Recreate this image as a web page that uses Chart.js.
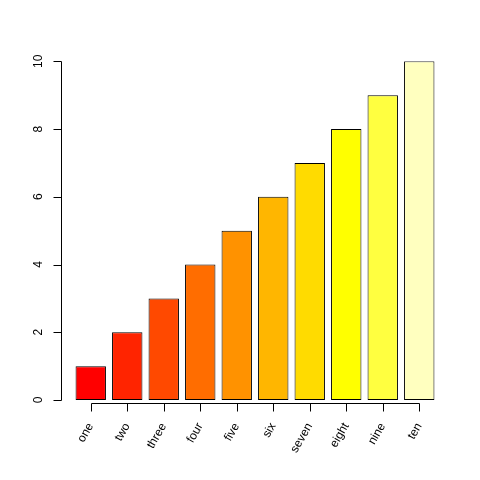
<!DOCTYPE html>
<html>
<head>
<meta charset="utf-8">
<script src="https://cdn.jsdelivr.net/npm/chart.js@4/dist/chart.umd.min.js"></script>
<style>
  body { margin: 0; background: #fff; }
  #chart { display: block; }
</style>
</head>
<body>
<canvas id="chart" width="480" height="480"></canvas>
<script>
// data
const categories = ['one', 'two', 'three', 'four', 'five', 'six', 'seven', 'eight', 'nine', 'ten'];
const values = [1, 2, 3, 4, 5, 6, 7, 8, 9, 10];
const yTicks = [0, 2, 4, 6, 8, 10];

// heat.colors(10)
const palette = ['#FF0000', '#FF2400', '#FF4900', '#FF6D00', '#FF9200',
                 '#FFB600', '#FFDB00', '#FFFF00', '#FFFF40', '#FFFFBF'];

const FONT = '12px "Liberation Sans", Arial, sans-serif';

// R style axes: y axis sits left of the bars, x axis only spans bar centres
const rAxes = {
  id: 'rAxes',
  afterDraw(chart) {
    const ctx = chart.ctx;
    const xs = chart.scales.x;
    const ys = chart.scales.y;
    const axisX = 61.5;
    const axisY = 403.5;

    ctx.save();
    ctx.strokeStyle = '#000';
    ctx.lineWidth = 1;
    ctx.fillStyle = '#000';
    ctx.font = FONT;

    // y axis
    ctx.beginPath();
    ctx.moveTo(axisX, Math.round(ys.getPixelForValue(yTicks[0])) + 0.5);
    ctx.lineTo(axisX, Math.round(ys.getPixelForValue(yTicks[yTicks.length - 1])) + 0.5);
    yTicks.forEach(v => {
      const py = Math.round(ys.getPixelForValue(v)) + 0.5;
      ctx.moveTo(axisX, py);
      ctx.lineTo(axisX - 8, py);
    });
    ctx.stroke();

    ctx.textAlign = 'center';
    ctx.textBaseline = 'middle';
    yTicks.forEach(v => {
      const py = ys.getPixelForValue(v);
      ctx.save();
      ctx.translate(38.5, py);
      ctx.rotate(-Math.PI / 2);
      ctx.fillText(String(v), 0, 0);
      ctx.restore();
    });

    // x axis
    const first = Math.round(xs.getPixelForValue(0)) + 0.5;
    const last = Math.round(xs.getPixelForValue(categories.length - 1)) + 0.5;
    ctx.beginPath();
    ctx.moveTo(first, axisY);
    ctx.lineTo(last, axisY);
    categories.forEach((c, i) => {
      const px = Math.round(xs.getPixelForValue(i)) + 0.5;
      ctx.moveTo(px, axisY);
      ctx.lineTo(px, axisY + 8);
    });
    ctx.stroke();

    ctx.textAlign = 'right';
    ctx.textBaseline = 'middle';
    categories.forEach((c, i) => {
      const px = xs.getPixelForValue(i);
      ctx.save();
      ctx.translate(px, 424);
      ctx.rotate(-Math.PI / 3);
      ctx.fillText(c, 0, 0);
      ctx.restore();
    });
    ctx.restore();
  }
};

new Chart(document.getElementById('chart'), {
  type: 'bar',
  data: {
    labels: categories,
    datasets: [{
      data: values,
      backgroundColor: palette,
      borderColor: '#000',
      borderWidth: 1,
      borderSkipped: false,
      barPercentage: 0.833,
      categoryPercentage: 1
    }]
  },
  options: {
    responsive: false,
    devicePixelRatio: 1,
    animation: false,
    layout: {
      padding: { left: 72.5, right: 42.5, top: 61.3, bottom: 80 }
    },
    plugins: {
      legend: { display: false },
      tooltip: { enabled: false }
    },
    scales: {
      x: { display: false, offset: true },
      y: { display: false, min: 0, max: 10 }
    }
  },
  plugins: [rAxes]
});
</script>
</body>
</html>
